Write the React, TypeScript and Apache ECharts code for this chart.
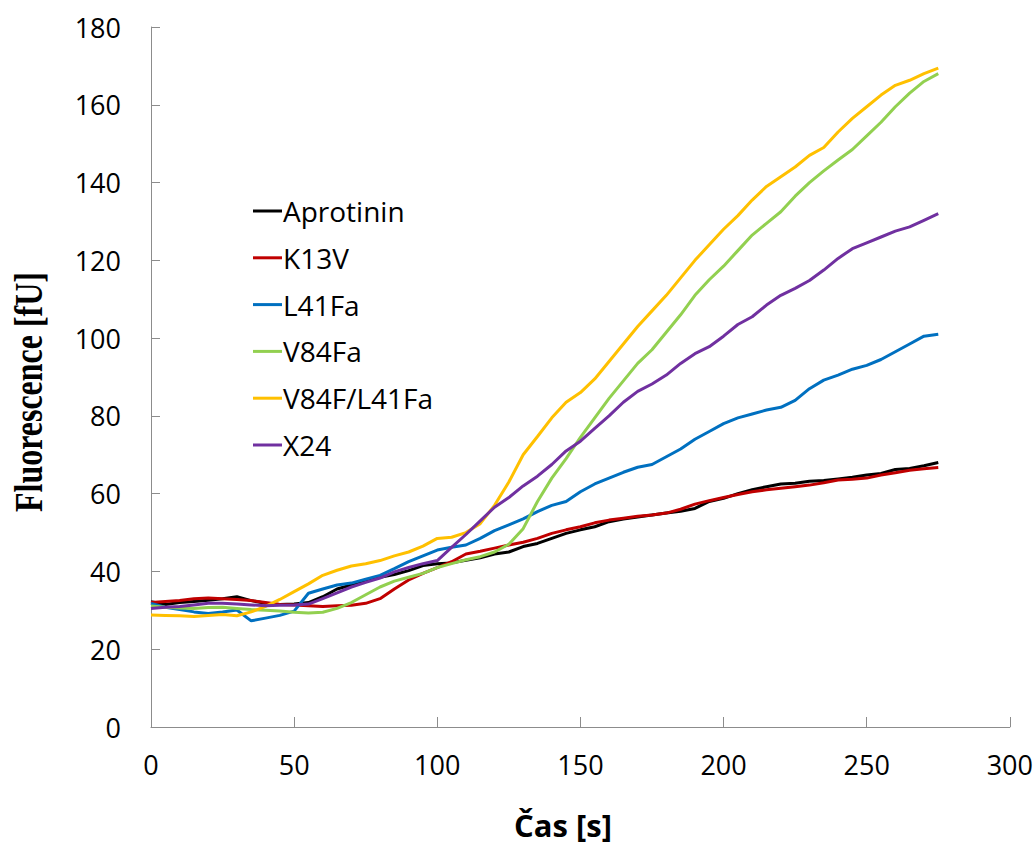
import React, { useEffect, useRef } from "react";
import * as echarts from "echarts";

const times = [0,5,10,15,20,25,30,35,40,45,50,55,60,65,70,75,80,85,90,95,100,105,110,115,120,125,130,135,140,145,150,155,160,165,170,175,180,185,190,195,200,205,210,215,220,225,230,235,240,245,250,255,260,265,270,275];

const aprotinin = [32.2,31.5,32,32.3,32.6,33,33.5,32.5,31.8,31.5,31.6,32,33.5,35.5,36.5,37.5,38.5,39.2,40.2,41.5,42,42.2,42.9,43.5,44.5,45,46.4,47.2,48.5,49.8,50.7,51.5,52.8,53.5,54,54.5,55,55.5,56.2,58,58.8,60,61,61.8,62.5,62.7,63.2,63.4,63.8,64.2,64.8,65.2,66.2,66.5,67.2,68];
const k13v = [32,32.3,32.5,33,33.2,33,32.8,32.5,32,31.5,31.4,31.2,31,31.2,31.3,31.8,33,35.5,37.8,39.5,41,42.5,44.5,45.2,46,46.8,47.5,48.5,49.8,50.7,51.5,52.5,53.2,53.7,54.2,54.5,55,56,57.3,58.2,59,59.8,60.5,61,61.4,61.8,62.2,62.8,63.5,63.7,64,64.8,65.4,66,66.4,66.7];
const l41fa = [31.8,30.8,30.2,29.6,29.2,29.6,30.1,27.3,28,28.7,29.8,34.4,35.5,36.5,37,38,39,40.7,42.5,44,45.5,46.2,46.8,48.5,50.5,52,53.5,55.4,57,58,60.5,62.5,64,65.5,66.8,67.5,69.5,71.5,74,76,78,79.5,80.5,81.5,82.2,84,87,89.2,90.5,92,93,94.5,96.5,98.5,100.5,101];
const v84fa = [31.1,30.8,30.6,30.5,30.7,30.8,30.5,30.2,30,29.8,29.5,29.3,29.5,30.5,32,34,36,37.5,38.5,39.5,41,42,43,43.8,45,47,51,58,64,69,74.5,79.5,84.5,89,93.5,97,101.5,106,111,115,118.5,122.5,126.5,129.5,132.5,136.5,140,143,145.8,148.5,152,155.5,159.5,163,166,168];
const v84fl41fa = [28.8,28.7,28.6,28.4,28.7,28.9,28.6,29.6,31,32.8,34.8,36.8,39,40.3,41.4,42,42.8,44,45,46.5,48.5,48.8,50,52.3,57,63,70,74.7,79.5,83.5,86,89.5,94,98.5,103,107,111,115.5,120,124,128,131.5,135.5,139,141.5,144,147,149,153,156.5,159.5,162.5,165,166.3,168,169.4];
const x24 = [30.5,30.8,31,31.4,31.8,31.8,31.6,31.4,31.2,31.3,31.4,31.6,33,34.5,36,37.2,38.3,39.9,41,42,42.8,46.2,49.5,53,56.5,59,62,64.5,67.5,71,73.5,76.8,80,83.5,86.3,88.2,90.5,93.5,96,97.8,100.5,103.5,105.5,108.5,111,112.8,114.8,117.5,120.5,123,124.5,126,127.5,128.6,130.3,132];

const seriesNames = ["Aprotinin", "K13V", "L41Fa", "V84Fa", "V84F/L41Fa", "X24"];
const seriesValues = [aprotinin, k13v, l41fa, v84fa, v84fl41fa, x24];
const seriesColors = ["#000000", "#C00000", "#0070C0", "#92D050", "#FFC000", "#7030A0"];

const xTitle = "Čas [s]";
const yTitle = "Fluorescence [fU]";

export default function App() {
  const ref = useRef<HTMLDivElement>(null);
  useEffect(() => {
    if (!ref.current) return;
    const chart = echarts.init(ref.current, undefined, { renderer: "svg" });
    const labelFont = "'Open Sans', sans-serif";
    chart.setOption({
      animation: false,
      backgroundColor: "#ffffff",
      grid: { left: 151, right: 21, top: 27, bottom: 118, containLabel: false },
      xAxis: {
        type: "value",
        min: 0,
        max: 300,
        interval: 50,
        axisLine: { show: true, lineStyle: { color: "#8c8c8c", width: 1 } },
        axisTick: { show: true, inside: true, length: 10, lineStyle: { color: "#8c8c8c" } },
        axisLabel: { fontFamily: labelFont, fontSize: 27, color: "#000", margin: 24 },
        splitLine: { show: false },
      },
      yAxis: {
        type: "value",
        min: 0,
        max: 180,
        interval: 20,
        axisLine: { show: true, lineStyle: { color: "#8c8c8c", width: 1 } },
        axisTick: { show: true, inside: true, length: 9, lineStyle: { color: "#8c8c8c" } },
        axisLabel: { fontFamily: labelFont, fontSize: 27, color: "#000", margin: 30 },
        splitLine: { show: false },
      },
      legend: {
        orient: "vertical",
        left: 248,
        top: 191,
        icon: "rect",
        itemWidth: 29,
        itemHeight: 3,
        itemGap: 16.8,
        data: seriesNames,
        textStyle: {
          fontFamily: labelFont,
          fontSize: 28,
          color: "#000",
          lineHeight: 30,
          padding: [0, 0, 0, -4],
        },
      },
      graphic: [
        {
          type: "text",
          x: 563,
          y: 825,
          style: {
            text: xTitle,
            fontFamily: labelFont,
            fontWeight: "bold",
            fontSize: 31,
            fill: "#000",
            textAlign: "center",
            textVerticalAlign: "middle",
          },
        },
        {
          type: "text",
          x: 29,
          y: 392,
          rotation: Math.PI / 2,
          scaleX: 0.82,
          style: {
            text: yTitle,
            fontFamily: "'Liberation Serif', serif",
            fontWeight: "bold",
            fontSize: 39,
            fill: "#000",
            textAlign: "center",
            textVerticalAlign: "middle",
          },
        },
      ],
      series: seriesNames.map((name, i) => ({
        name,
        type: "line",
        data: times.map((t, j) => [t, seriesValues[i][j]]),
        showSymbol: false,
        symbol: "none",
        color: seriesColors[i],
        lineStyle: { color: seriesColors[i], width: 3 },
      })),
    });
    return () => chart.dispose();
  }, []);
  return (
    <div
      ref={ref}
      style={{ position: "fixed", left: 0, top: 0, width: 1036, height: 845 }}
    />
  );
}
